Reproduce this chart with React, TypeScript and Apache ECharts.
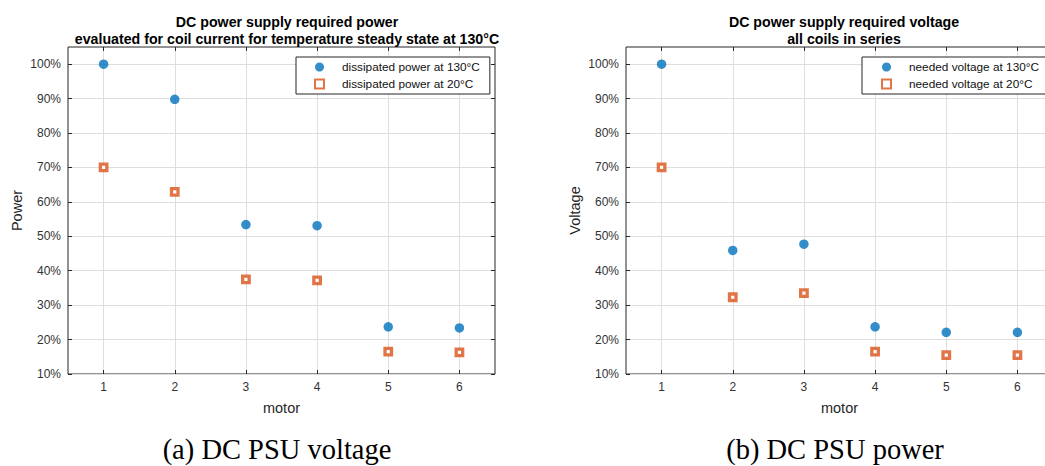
import React, { useEffect, useRef } from "react";
import * as echarts from "echarts";

const motors = [1, 2, 3, 4, 5, 6];
const yTicks = [10, 20, 30, 40, 50, 60, 70, 80, 90, 100];
const power130 = [100, 89.8, 53.4, 53.1, 23.7, 23.4];
const power20 = [70, 62.9, 37.5, 37.2, 16.5, 16.3];
const voltage130 = [100, 45.9, 47.7, 23.7, 22.1, 22.1];
const voltage20 = [70, 32.3, 33.5, 16.5, 15.5, 15.5];

const leftTitle = "DC power supply required power\nevaluated for coil current for temperature steady state at 130°C";
const rightTitle = "DC power supply required voltage\nall coils in series";
const captionA = "(a) DC PSU voltage";
const captionB = "(b) DC PSU power";

const BLUE = "#0072BD";
const ORANGE = "#D95319";
const AX = "#262626";
const GRIDC = "#dedede";
const FONT = "Liberation Sans, Arial, Helvetica, sans-serif";
const SERIF = "Liberation Serif, Times New Roman, serif";

function pair(a: number[]) {
  return motors.map((m, i) => [m, a[i]]);
}

export default function App() {
  const ref = useRef<HTMLDivElement>(null);
  useEffect(() => {
    if (!ref.current) return;
    const chart = echarts.init(ref.current, undefined, { renderer: "svg" });

    const grids = [
      { left: 68, width: 427, top: 47, bottom: 92 },
      { left: 626, width: 427, top: 47, bottom: 92 },
    ];

    const xAxes: any[] = [];
    const yAxes: any[] = [];
    grids.forEach((_, gi) => {
      xAxes.push({
        type: "value",
        gridIndex: gi,
        min: 0.5,
        max: 6.5,
        position: "bottom",
        name: "motor",
        nameLocation: "middle",
        nameGap: 26,
        nameTextStyle: { fontSize: 14.5, color: AX, fontFamily: FONT },
        axisLine: { show: false },
        axisTick: { inside: true, length: 4, lineStyle: { color: AX }, customValues: motors },
        axisLabel: { customValues: motors, fontSize: 12, color: "#333", fontFamily: FONT, margin: 7 },
        splitLine: { show: true, lineStyle: { color: GRIDC, width: 1 } },
      });
      xAxes.push({
        type: "value",
        gridIndex: gi,
        min: 0.5,
        max: 6.5,
        position: "top",
        axisLine: { show: false },
        axisTick: { inside: true, length: 4, lineStyle: { color: AX }, customValues: motors },
        axisLabel: { show: false, customValues: motors },
        splitLine: { show: false },
      });
      yAxes.push({
        type: "value",
        gridIndex: gi,
        min: 10,
        max: 105,
        position: "left",
        name: gi === 0 ? "Power" : "Voltage",
        nameLocation: "middle",
        nameGap: 44,
        nameTextStyle: { fontSize: 14.5, color: AX, fontFamily: FONT },
        axisLine: { show: false },
        axisTick: { inside: true, length: 4, lineStyle: { color: AX }, customValues: yTicks },
        axisLabel: {
          customValues: yTicks,
          fontSize: 12,
          color: "#333",
          fontFamily: FONT,
          margin: 7,
          formatter: (v: number) => `${v}%`,
        },
        splitLine: { show: true, lineStyle: { color: GRIDC, width: 1 } },
      });
      yAxes.push({
        type: "value",
        gridIndex: gi,
        min: 10,
        max: 105,
        position: "right",
        axisLine: { show: false },
        axisTick: { inside: true, length: 4, lineStyle: { color: AX }, customValues: yTicks },
        axisLabel: { show: false, customValues: yTicks },
        splitLine: { show: false },
      });
    });

    const circleSeries = (name: string, data: number[], gi: number) => ({
      type: "scatter",
      name,
      xAxisIndex: gi * 2,
      yAxisIndex: gi * 2,
      data: pair(data),
      symbol: "circle",
      symbolSize: 9.5,
      itemStyle: { color: BLUE },
    });
    const squareSeries = (name: string, data: number[], gi: number) => ({
      type: "scatter",
      name,
      xAxisIndex: gi * 2,
      yAxisIndex: gi * 2,
      data: pair(data),
      symbol: "rect",
      symbolSize: 6.5,
      itemStyle: { color: "#ffffff", borderColor: ORANGE, borderWidth: 3.3 },
    });

    const legendCommon = {
      orient: "vertical",
      top: 57,
      itemWidth: 9,
      itemHeight: 9,
      itemGap: 3,
      borderColor: AX,
      borderWidth: 1,
      backgroundColor: "#fff",
      borderRadius: 0,
      textStyle: { fontSize: 11.8, color: "#111", fontFamily: FONT, lineHeight: 14, padding: [0, 0, 0, 13] },
    };

    chart.setOption({
      animation: false,
      backgroundColor: "#ffffff",
      grid: grids.map((g) => ({
        ...g,
        show: true,
        borderColor: AX,
        borderWidth: 1,
        backgroundColor: "#fff",
        outerBoundsMode: "none",
        containLabel: false,
      })),
      title: [
        {
          text: leftTitle,
          left: 282,
          top: 8,
          textAlign: "center",
          textStyle: { fontSize: 14.2, fontWeight: "bold", color: "#000", fontFamily: FONT, lineHeight: 17 },
        },
        {
          text: rightTitle,
          left: 839,
          top: 8,
          textAlign: "center",
          textStyle: { fontSize: 14.2, fontWeight: "bold", color: "#000", fontFamily: FONT, lineHeight: 17 },
        },
        {
          text: captionA,
          left: 272,
          top: 430,
          textAlign: "center",
          textStyle: { fontSize: 28.5, fontWeight: "normal", color: "#000", fontFamily: SERIF },
        },
        {
          text: captionB,
          left: 830,
          top: 430,
          textAlign: "center",
          textStyle: { fontSize: 28.5, fontWeight: "normal", color: "#000", fontFamily: SERIF },
        },
      ],
      legend: [
        {
          ...legendCommon,
          left: 296,
          padding: [3, 10, 3, 18],
          data: ["dissipated power at 130°C", "dissipated power at 20°C"],
        },
        {
          ...legendCommon,
          left: 862,
          padding: [3, 12, 3, 19],
          data: ["needed voltage at 130°C", "needed voltage at 20°C"],
        },
      ],
      xAxis: xAxes,
      yAxis: yAxes,
      series: [
        circleSeries("dissipated power at 130°C", power130, 0),
        squareSeries("dissipated power at 20°C", power20, 0),
        circleSeries("needed voltage at 130°C", voltage130, 1),
        squareSeries("needed voltage at 20°C", voltage20, 1),
      ],
    });
    return () => chart.dispose();
  }, []);

  return (
    <div
      ref={ref}
      style={{ position: "fixed", left: 0, top: 0, width: 1045, height: 466, background: "#fff" }}
    />
  );
}
